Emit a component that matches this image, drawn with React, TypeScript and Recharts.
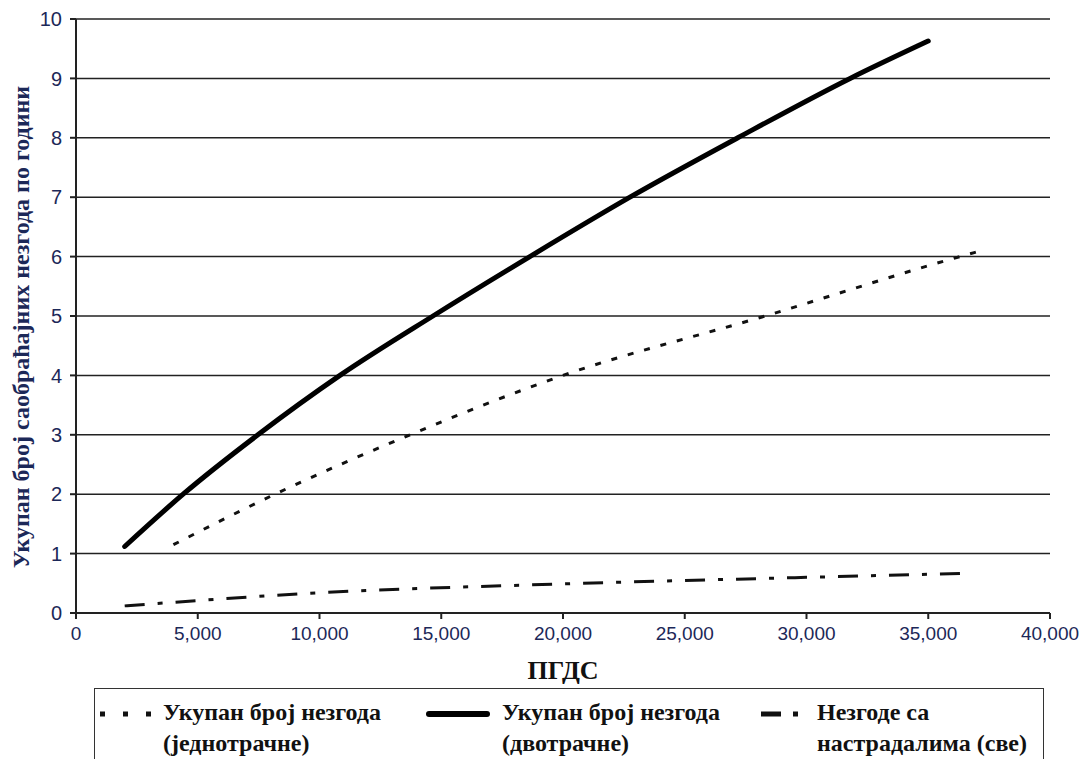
import React from 'react';
import { LineChart, Line, XAxis, YAxis, CartesianGrid } from 'recharts';

// ПГДС values and accident counts
const twoLaneX = [2000, 4400, 7470, 10840, 14660, 18640, 22750, 27180, 31790, 35000];
const twoLaneY = [1.12, 2, 3, 4, 5, 6, 7, 8, 9, 9.63];

const oneLaneX = [4000, 8170, 13720, 20000, 28300, 36300, 37000];
const oneLaneY = [1.15, 2, 3, 4, 5, 6, 6.08];

const injuryX = [2000, 10000, 20000, 30000, 36700];
const injuryY = [0.12, 0.34, 0.49, 0.6, 0.67];

const xTicks = [0, 5000, 10000, 15000, 20000, 25000, 30000, 35000, 40000];
const yTicks = [0, 1, 2, 3, 4, 5, 6, 7, 8, 9, 10];

const toRows = (xs: number[], ys: number[]) => xs.map((x, i) => ({ x, y: ys[i] }));

const twoLane = toRows(twoLaneX, twoLaneY);
const oneLane = toRows(oneLaneX, oneLaneY);
const injury = toRows(injuryX, injuryY);

const tickColor = '#1c2858';
const serif = '"Liberation Serif", "DejaVu Serif", serif';
const sans = '"Liberation Sans", Arial, sans-serif';

const legendText: React.CSSProperties = {
    position: 'absolute',
    fontFamily: serif,
    fontWeight: 'bold',
    fontSize: 24,
    lineHeight: '31px',
    color: '#111',
    whiteSpace: 'nowrap',
};

const App = () => {
    return (
        <div style={{ position: 'absolute', left: 0, top: 0, width: 1082, height: 759, background: '#fff', overflow: 'hidden' }}>
            <LineChart width={1082} height={680} data={twoLane} margin={{ top: 19, right: 32, bottom: 0, left: 0 }}>
                <CartesianGrid horizontal vertical={false} stroke="#222" strokeWidth={1.5} />
                <XAxis
                    dataKey="x"
                    type="number"
                    domain={[0, 40000]}
                    ticks={xTicks}
                    allowDuplicatedCategory={false}
                    height={67}
                    stroke="#222"
                    strokeWidth={2}
                    tickSize={6}
                    tickMargin={8}
                    tick={{ fill: tickColor, fontSize: 19, fontFamily: sans }}
                    tickFormatter={(v: number) => v.toLocaleString('en-US')}
                />
                <YAxis
                    type="number"
                    domain={[0, 10]}
                    ticks={yTicks}
                    width={76}
                    stroke="#222"
                    strokeWidth={2}
                    tickSize={6}
                    tickMargin={8}
                    tick={{ fill: tickColor, fontSize: 20, fontFamily: sans }}
                />
                <Line data={oneLane} dataKey="y" type="monotone" stroke="#111" strokeWidth={3} strokeDasharray="6 11" dot={false} isAnimationActive={false} />
                <Line data={twoLane} dataKey="y" type="monotone" stroke="#000" strokeWidth={5} strokeLinecap="round" dot={false} isAnimationActive={false} />
                <Line data={injury} dataKey="y" type="monotone" stroke="#111" strokeWidth={3} strokeDasharray="20 13 5 13" dot={false} isAnimationActive={false} />
            </LineChart>

            {/* axis titles */}
            <div style={{ position: 'absolute', left: 21, top: 327, transform: 'translate(-50%, -50%) rotate(-90deg)', fontFamily: serif, fontWeight: 'bold', fontSize: 24, color: tickColor, whiteSpace: 'nowrap' }}>
                Укупан број саобраћајних незгода по години
            </div>
            <div style={{ position: 'absolute', left: 563, top: 671, transform: 'translate(-50%, -50%)', fontFamily: serif, fontWeight: 'bold', fontSize: 26, color: '#111' }}>
                ПГДС
            </div>

            {/* legend box */}
            <div style={{ position: 'absolute', left: 94, top: 688, width: 948, height: 90, border: '1.5px solid #333' }} />
            <svg style={{ position: 'absolute', left: 0, top: 0 }} width={1082} height={759}>
                <line x1={100} y1={714} x2={158} y2={714} stroke="#111" strokeWidth={5} strokeDasharray="5 18" />
                <line x1={429} y1={714} x2={487} y2={714} stroke="#000" strokeWidth={6} strokeLinecap="round" />
                <line x1={761} y1={714} x2={800} y2={714} stroke="#111" strokeWidth={5} strokeDasharray="20 12 5 12" />
            </svg>
            <div style={{ ...legendText, left: 163, top: 697 }}>Укупан број незгода<br />(једнотрачне)</div>
            <div style={{ ...legendText, left: 502, top: 697 }}>Укупан број незгода<br />(двотрачне)</div>
            <div style={{ ...legendText, left: 817, top: 697 }}>Незгоде са<br />настрадалима (све)</div>
        </div>
    );
};

export default App;
